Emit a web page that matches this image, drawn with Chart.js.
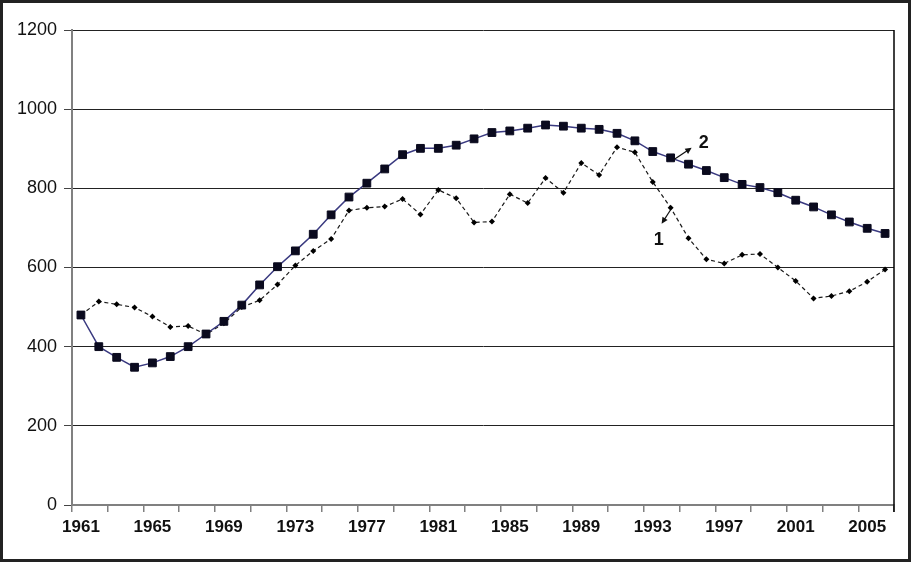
<!DOCTYPE html>
<html>
<head>
<meta charset="utf-8">
<script src="https://cdn.jsdelivr.net/npm/chart.js@4/dist/chart.umd.min.js"></script>
<style>
  html, body { margin: 0; padding: 0; background: #fff; overflow: hidden; }
  canvas { display: block; }
</style>
</head>
<body>
<canvas id="c" width="911" height="562"></canvas>
<script>
// Categories (years)
const years = ['1961','1962','1963','1964','1965','1966','1967','1968','1969','1970',
  '1971','1972','1973','1974','1975','1976','1977','1978','1979','1980',
  '1981','1982','1983','1984','1985','1986','1987','1988','1989','1990',
  '1991','1992','1993','1994','1995','1996','1997','1998','1999','2000',
  '2001','2002','2003','2004','2005','2006'];

// Series 1 (dashed line, small diamonds)
const series1 = [480, 514, 507, 499, 476, 450, 452, 431, 459, 500,
  517, 557, 605, 642, 672, 744, 751, 754, 773, 734,
  796, 775, 714, 716, 785, 763, 826, 789, 864, 834,
  904, 891, 816, 751, 674, 621, 610, 632, 634, 600,
  566, 522, 528, 540, 564, 595];

// Series 2 (solid line, squares)
const series2 = [480, 400, 373, 348, 359, 375, 400, 432, 464, 505,
  556, 602, 642, 684, 733, 778, 813, 849, 885, 901,
  901, 909, 925, 941, 945, 952, 960, 957, 952, 949,
  939, 920, 893, 877, 861, 845, 827, 810, 802, 789,
  770, 753, 733, 715, 699, 686];

// Y tick values
const yTicks = [0, 200, 400, 600, 800, 1000, 1200];
const annotationLabels = ['1', '2'];
const annotationIndex = 33;

function arrow(ctx, x1, y1, x2, y2) {
  const ang = Math.atan2(y2 - y1, x2 - x1);
  const h = 7;
  ctx.beginPath();
  ctx.moveTo(x1, y1);
  ctx.lineTo(x2 - Math.cos(ang) * 4, y2 - Math.sin(ang) * 4);
  ctx.stroke();
  ctx.beginPath();
  ctx.moveTo(x2, y2);
  ctx.lineTo(x2 - h * Math.cos(ang - 0.45), y2 - h * Math.sin(ang - 0.45));
  ctx.lineTo(x2 - h * Math.cos(ang + 0.45), y2 - h * Math.sin(ang + 0.45));
  ctx.closePath();
  ctx.fill();
}

const decor = {
  id: 'decor',
  afterDatasetsDraw(chart) {
    const { ctx, chartArea: a } = chart;
    ctx.save();
    // right border of plot area
    ctx.strokeStyle = '#000';
    ctx.lineWidth = 1.5;
    ctx.beginPath();
    ctx.moveTo(a.right, a.top);
    ctx.lineTo(a.right, a.bottom + 7);
    ctx.stroke();
    // annotations
    ctx.strokeStyle = '#111';
    ctx.fillStyle = '#111';
    ctx.lineWidth = 1.2;
    const p1 = chart.getDatasetMeta(0).data[annotationIndex];
    const p2 = chart.getDatasetMeta(1).data[annotationIndex];
    arrow(ctx, p2.x + 3, p2.y + 2, p2.x + 21, p2.y - 10);
    arrow(ctx, p1.x, p1.y + 2, p1.x - 9, p1.y + 16);
    ctx.font = 'bold 18px "Liberation Sans", Arial, sans-serif';
    ctx.textAlign = 'center';
    ctx.textBaseline = 'middle';
    ctx.fillText(annotationLabels[1], p2.x + 33, p2.y - 15);
    ctx.fillText(annotationLabels[0], p1.x - 12, p1.y + 32);
    ctx.restore();
  },
  afterDraw(chart) {
    const ctx = chart.ctx;
    ctx.save();
    ctx.strokeStyle = '#222';
    ctx.lineWidth = 3;
    ctx.strokeRect(1.5, 1.5, chart.width - 3, chart.height - 3);
    ctx.restore();
  }
};

new Chart(document.getElementById('c'), {
  type: 'line',
  data: {
    labels: years,
    datasets: [
      {
        data: series1,
        order: 1,
        borderColor: '#1a1a1a',
        borderWidth: 1.2,
        borderDash: [4, 3],
        pointStyle: 'rectRot',
        pointRadius: 3,
        pointBackgroundColor: '#000',
        pointBorderColor: '#000',
        pointBorderWidth: 0,
        tension: 0,
        fill: false
      },
      {
        data: series2,
        order: 0,
        borderColor: '#3a3a80',
        borderWidth: 1.5,
        pointStyle: 'rect',
        pointRadius: 5.5,
        pointBackgroundColor: '#0a0a1e',
        pointBorderColor: '#0a0a1e',
        pointBorderWidth: 1,
        tension: 0,
        fill: false
      }
    ]
  },
  options: {
    responsive: false,
    animation: false,
    events: [],
    layout: { padding: { left: 0, right: 17, top: 30, bottom: 0 } },
    plugins: { legend: { display: false }, tooltip: { enabled: false } },
    scales: {
      x: {
        type: 'category',
        offset: true,
        grid: {
          offset: true,
          drawOnChartArea: false,
          drawTicks: true,
          tickLength: 7,
          lineWidth: 1.5,
          color: '#808080',
          tickColor: (c) => (c.index === undefined || c.index % 2 === 0) ? '#808080' : 'rgba(0,0,0,0)'
        },
        border: { color: '#808080', width: 2 },
        ticks: {
          autoSkip: false,
          maxRotation: 0,
          minRotation: 0,
          padding: 5,
          color: '#111',
          font: { family: '"Liberation Sans", Arial, sans-serif', weight: 'bold', size: 17 },
          callback: (v, i) => (i % 4 === 0 ? years[i] : '')
        },
        afterFit: (s) => { s.height = 57; }
      },
      y: {
        min: yTicks[0],
        max: yTicks[yTicks.length - 1],
        afterBuildTicks: (s) => { s.ticks = yTicks.map(v => ({ value: v })); },
        ticks: {
          color: '#111',
          padding: 7,
          font: { family: '"Liberation Sans", Arial, sans-serif', size: 18 },
          callback: (v) => String(v)
        },
        grid: {
          color: (c) => (c.tick && c.tick.value === 0) ? 'rgba(0,0,0,0)' : '#222',
          tickColor: '#444',
          lineWidth: 1,
          tickLength: 8,
          drawTicks: true
        },
        border: { color: '#808080', width: 2 },
        afterFit: (s) => { s.width = 72; }
      }
    }
  },
  plugins: [decor]
});
</script>
</body>
</html>
